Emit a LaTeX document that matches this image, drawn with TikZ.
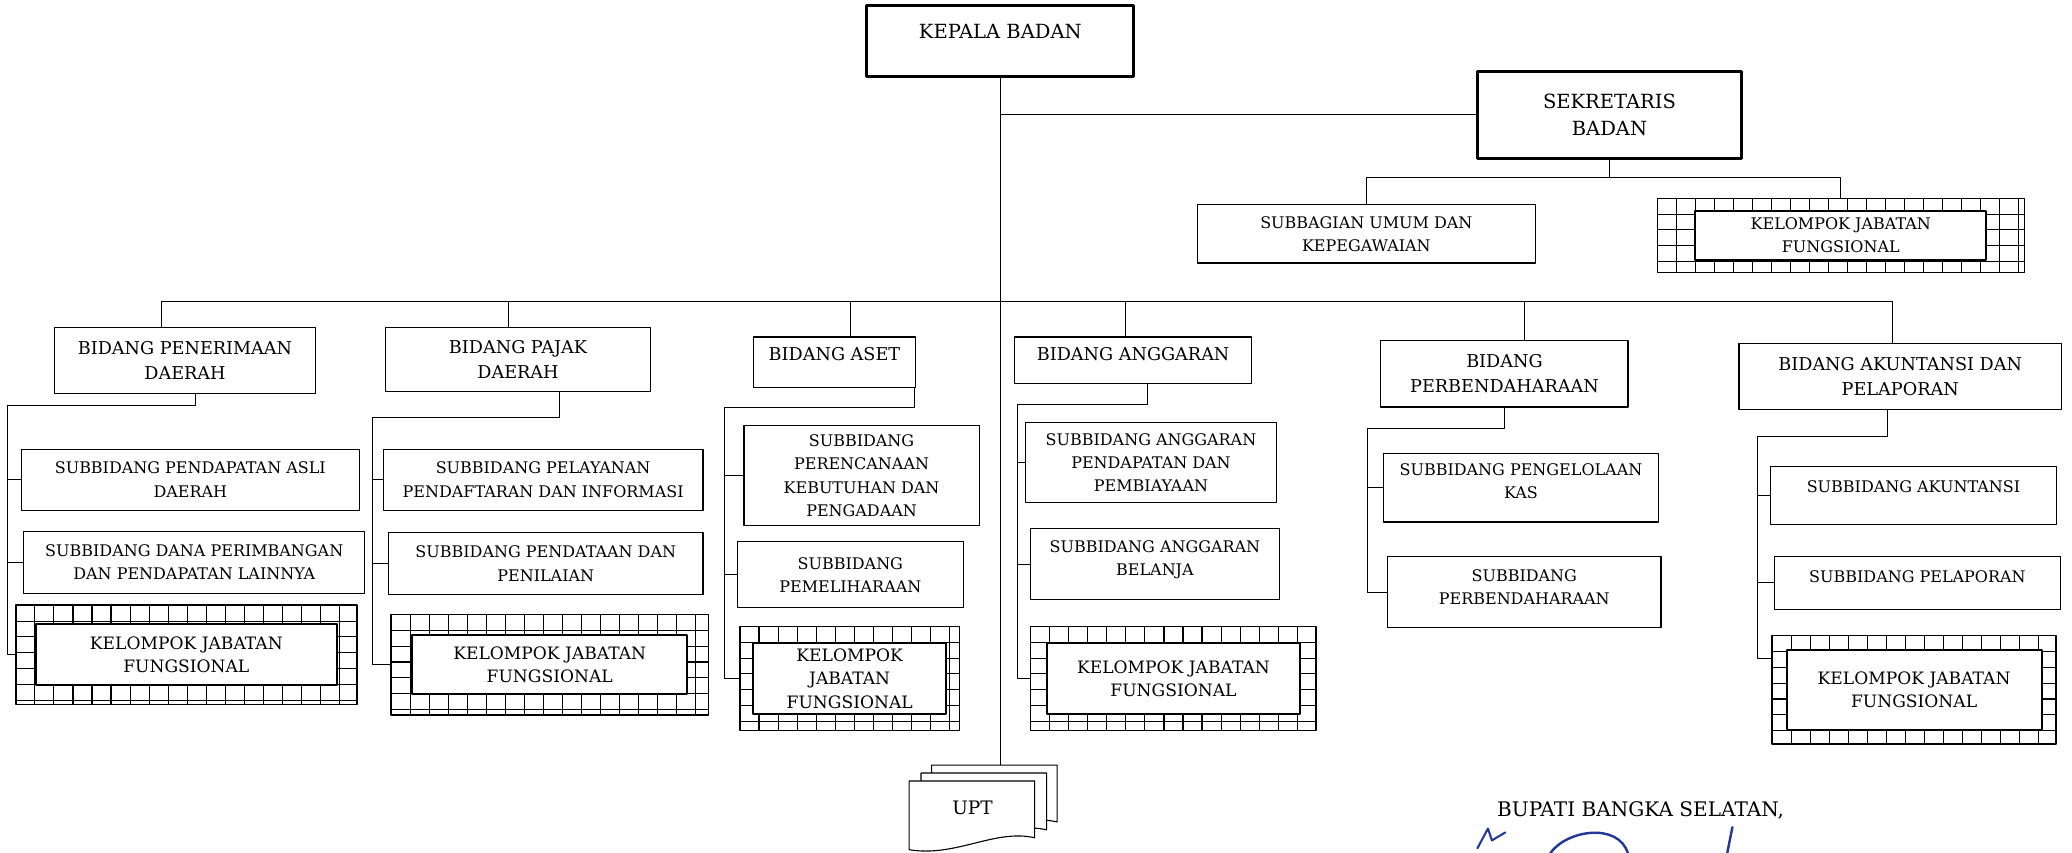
\documentclass[tikz,border=0pt]{standalone}
\usepackage{fontspec}
\setmainfont{DejaVu Serif}
\usetikzlibrary{calc}

\definecolor{tinta}{RGB}{35,55,150}

\tikzset{
	box/.style={draw, line width=0.6pt, align=center, inner sep=2pt},
	sz/.style 2 args={minimum width=#1*0.025cm, minimum height=#2*0.025cm},
	head/.style={box, line width=1.6pt, font=\fontsize{10.5}{15}\selectfont},
	bid/.style={box, font=\fontsize{9.5}{13.5}\selectfont},
	sub/.style={box, font=\fontsize{8.6}{12.5}\selectfont},
	kfont/.style={font=\fontsize{9.2}{12.5}\selectfont},
	lift/.style={text depth=#1},
	link/.style={line width=0.5pt},
	kjf/.style n args={4}{box, line width=0.8pt, sz={#1}{#2}, path picture={
			\foreach \i in {1,...,22}
				\draw[line width=0.6pt] ([xshift=\i*0.36cm]path picture bounding box.north west) -- ++(0,-3cm);
			\foreach \j in {1,...,7}
				\draw[line width=0.6pt] ([yshift=-\j*0.3cm]path picture bounding box.north west) -- ++(8cm,0);
			\draw[line width=1pt, fill=white]
				([xshift=#3*0.025cm, yshift=-#4*0.025cm]path picture bounding box.north west) rectangle
				([xshift=-#3*0.025cm, yshift=#4*0.025cm]path picture bounding box.south east);
		}},
	pics/lembar/.style={code={
			\draw[line width=0.6pt, fill=white] (0,0) -- (95,0) -- (95,43)
				.. controls (65,36) and (35,58) .. (0,52) -- cycle;
		}}
}

\begin{document}
\begin{tikzpicture}[x=0.025cm, y=-0.025cm, line join=round]
	
	\fill[white] (0,0) rectangle (1568,645.5);
	\useasboundingbox (0,0) rectangle (1568,645.5);
	
	% pimpinan
	\node[head, sz={202}{54}, lift=0.35cm] (kepala) at (757,31) {KEPALA BADAN};
	\node[head, sz={200}{66}] (sek) at (1218,87) {SEKRETARIS\\BADAN};
	\node[sub, sz={256}{44}] (subum) at (1034,177) {SUBBAGIAN UMUM DAN\\KEPEGAWAIAN};
	\node[kjf={278}{56}{29}{9.5}, sub] (kjf0) at (1393,178) {KELOMPOK JABATAN\\FUNGSIONAL};
	
	% bidang
	\node[bid, sz={198}{50}] (pen) at (140,273) {BIDANG PENERIMAAN\\DAERAH};
	\node[bid, sz={200}{48}] (paj) at (392,272) {BIDANG PAJAK\\DAERAH};
	\node[bid, sz={123}{38}, lift=0.3cm] (aset) at (631.5,274) {BIDANG ASET};
	\node[bid, sz={179}{35}, lift=0.22cm] (ang) at (857.5,272.5) {BIDANG ANGGARAN};
	\node[bid, sz={187}{50}] (perb) at (1138.5,283) {BIDANG\\PERBENDAHARAAN};
	\node[bid, sz={244}{50}] (aku) at (1438,285) {BIDANG AKUNTANSI DAN\\PELAPORAN};
	
	% subbidang
	\node[sub, sz={256}{46}] (pad) at (144,363) {SUBBIDANG PENDAPATAN ASLI\\DAERAH};
	\node[sub, sz={258}{47}] (dana) at (147,425.5) {SUBBIDANG DANA PERIMBANGAN\\DAN PENDAPATAN LAINNYA};
	\node[kjf={258}{75}{15}{14.5}, kfont] (kjf1) at (141,495.5) {KELOMPOK JABATAN\\FUNGSIONAL};
	
	\node[sub, sz={242}{46}] (pel) at (411,363) {SUBBIDANG PELAYANAN\\PENDAFTARAN DAN INFORMASI};
	\node[sub, sz={238}{47}] (pnd) at (413,426.5) {SUBBIDANG PENDATAAN DAN\\PENILAIAN};
	\node[kjf={240}{76}{16}{15.5}, kfont] (kjf2) at (416,503) {KELOMPOK JABATAN\\FUNGSIONAL};
	
	\node[sub, sz={178}{76}] (ren) at (652,360) {SUBBIDANG\\PERENCANAAN\\KEBUTUHAN DAN\\PENGADAAN};
	\node[sub, sz={171}{50}] (pem) at (643.5,435) {SUBBIDANG\\PEMELIHARAAN};
	\node[kjf={166}{79}{10}{12.5}, kfont] (kjf3) at (643,513.5) {KELOMPOK\\JABATAN\\FUNGSIONAL};
	
	\node[sub, sz={190}{60}] (agp) at (871,350) {SUBBIDANG ANGGARAN\\PENDAPATAN DAN\\PEMBIAYAAN};
	\node[sub, sz={188}{54}, lift=0.22cm] (agb) at (874,427) {SUBBIDANG ANGGARAN\\BELANJA};
	\node[kjf={216}{79}{12}{12.5}, kfont] (kjf4) at (888,513.5) {KELOMPOK JABATAN\\FUNGSIONAL};
	
	\node[sub, sz={208}{52}, lift=0.25cm] (kas) at (1151,369) {SUBBIDANG PENGELOLAAN\\KAS};
	\node[sub, sz={207}{54}, lift=0.2cm] (sperb) at (1153.5,448) {SUBBIDANG\\PERBENDAHARAAN};
	
	\node[sub, sz={216}{44}, lift=0.35cm] (sak) at (1448,375) {SUBBIDANG AKUNTANSI};
	\node[sub, sz={216}{40}, lift=0.25cm] (slap) at (1451,441) {SUBBIDANG PELAPORAN};
	\node[kjf={215}{82}{11}{11}, kfont] (kjf6) at (1448.5,522) {KELOMPOK JABATAN\\FUNGSIONAL};
	
	% UPT
	\pic at (705,579) {lembar};
	\pic at (697,585) {lembar};
	\pic at (688,591) {lembar};
	\node[font=\fontsize{10}{12}\selectfont] (upt) at (736,611) {UPT};
	
	% garis komando
	\coordinate (uptlvl) at (0,579);
	\draw[link] (kepala.south) -- (kepala.south |- uptlvl);
	\draw[link] (kepala.south |- sek.west) -- (sek.west);
	
	\coordinate (sekbus) at (0,134);
	\draw[link] (sek.south) -- (sek.south |- sekbus);
	\draw[link] (subum.north) |- (kjf0.north |- sekbus) -- (kjf0.north);
	
	\path ([xshift=-0.45cm]pen.north) coordinate (pen-n)
		([xshift=-0.18cm]paj.north) coordinate (paj-n)
		([xshift=0.3cm]aset.north) coordinate (aset-n)
		([xshift=-0.15cm]ang.north) coordinate (ang-n)
		([xshift=0.38cm]perb.north) coordinate (perb-n)
		([xshift=-0.15cm]aku.north) coordinate (aku-n);
	\coordinate (bus) at (0,228);
	\draw[link] (pen-n) |- (aku-n |- bus) -- (aku-n);
	\foreach \b in {paj,aset,ang,perb}
		\draw[link] (\b-n) -- (\b-n |- bus);
	
	% garis ke subbidang
	\path ([xshift=0.2cm]pen.south) coordinate (pen-s)
		([xshift=0.78cm]paj.south) coordinate (paj-s)
		([xshift=-1pt]aset.south east) coordinate (aset-s)
		([xshift=0.28cm]ang.south) coordinate (ang-s)
		(perb.south) coordinate (perb-s)
		([xshift=-0.25cm]aku.south) coordinate (aku-s);
	\coordinate (sp1) at (6,307);
	\coordinate (sp2) at (282,316);
	\coordinate (sp3) at (548,308);
	\coordinate (sp4) at (770,306);
	\coordinate (sp5) at (1035,324);
	\coordinate (sp6) at (1330,330);
	
	\draw[link] (pen-s) |- (sp1) |- (kjf1.west);
	\foreach \n in {pad,dana}
		\draw[link] (sp1 |- \n.west) -- (\n.west);
	\draw[link] (paj-s) |- (sp2) |- (kjf2.west);
	\foreach \n in {pel,pnd}
		\draw[link] (sp2 |- \n.west) -- (\n.west);
	\draw[link] (aset-s) |- (sp3) |- (kjf3.west);
	\foreach \n in {ren,pem}
		\draw[link] (sp3 |- \n.west) -- (\n.west);
	\draw[link] (ang-s) |- (sp4) |- (kjf4.west);
	\foreach \n in {agp,agb}
		\draw[link] (sp4 |- \n.west) -- (\n.west);
	\draw[link] (perb-s) |- (sp5) |- (sperb.west);
	\draw[link] (sp5 |- kas.west) -- (kas.west);
	\draw[link] (aku-s) |- (sp6) |- ([yshift=0.6cm]kjf6.west);
	\foreach \n in {sak,slap}
		\draw[link] (sp6 |- \n.west) -- (\n.west);
	
	% pengesahan
	\node[anchor=west, font=\fontsize{10.8}{13}\selectfont] (bupati) at (1128,613) {BUPATI BANGKA SELATAN,};
	\draw[tinta, line width=1.1pt, line cap=round] (1118,642) -- (1126,627) -- (1129,636) -- (1139,630);
	\draw[tinta, line width=1.3pt, line cap=round] (1173,646) .. controls (1185,628) and (1225,622) .. (1232,646);
	\draw[tinta, line width=1.3pt, line cap=round] (1311,626) -- (1307,646);
	
\end{tikzpicture}
\end{document}
